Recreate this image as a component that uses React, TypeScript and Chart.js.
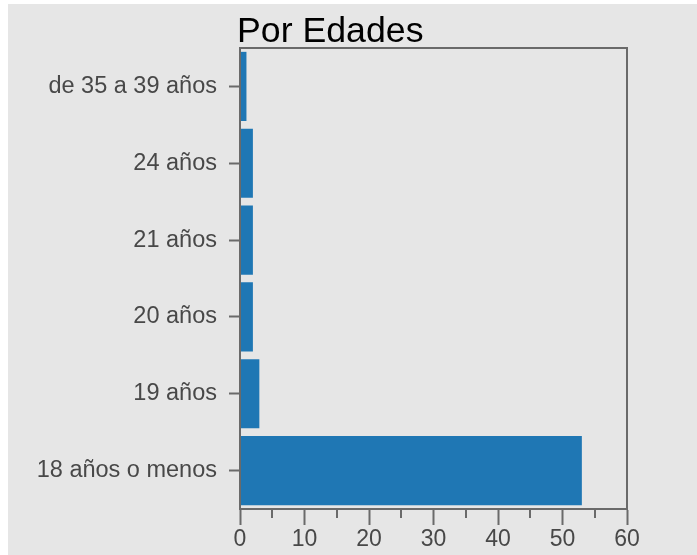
import React, { useEffect, useRef } from "react";
import { Chart, registerables } from "chart.js";

Chart.register(...registerables);

const TITLE = "Por Edades";
const categories = ["18 años o menos", "19 años", "20 años", "21 años", "24 años", "de 35 a 39 años"];
const values = [53, 3, 2, 2, 2, 1];
const xMin = 0;
const xMax = 60;
const majorStep = 10;
const minorTicks = [5, 15, 25, 35, 45, 55];

const AXIS = "#6a6a6a";
const LABEL = "#484848";
const FONT = "'Liberation Sans', Arial, sans-serif";

const boxPlugin = {
  id: "boxPlugin",
  afterDraw(chart: any) {
    const { ctx, chartArea } = chart;
    const { left, right, top, bottom } = chartArea;
    ctx.save();
    ctx.strokeStyle = AXIS;
    ctx.lineWidth = 2;
    ctx.strokeRect(left, top, right - left, bottom - top);
    const xs = chart.scales.x;
    ctx.beginPath();
    for (const v of minorTicks) {
      const px = Math.round(xs.getPixelForValue(v));
      ctx.moveTo(px, bottom);
      ctx.lineTo(px, bottom + 9);
    }
    ctx.stroke();
    ctx.fillStyle = "#000";
    ctx.font = "35.7px " + FONT;
    ctx.textBaseline = "alphabetic";
    ctx.textAlign = "left";
    ctx.fillText(TITLE, left - 3, top - 6);
    ctx.restore();
  },
};

export default function App() {
  const ref = useRef<HTMLCanvasElement | null>(null);
  useEffect(() => {
    if (!ref.current) return;
    const chart = new Chart(ref.current, {
      type: "bar",
      data: {
        labels: categories,
        datasets: [
          {
            data: values,
            backgroundColor: "#1f77b4",
            borderWidth: 0,
            categoryPercentage: 1,
            barPercentage: 0.9,
          },
        ],
      },
      options: {
        indexAxis: "y",
        animation: false,
        responsive: false,
        layout: { padding: { top: 44, left: 0, right: 70, bottom: 0 } },
        plugins: { legend: { display: false }, tooltip: { enabled: false }, title: { display: false } },
        scales: {
          x: {
            type: "linear",
            min: xMin,
            max: xMax,
            ticks: {
              stepSize: majorStep,
              color: LABEL,
              font: { family: FONT, size: 23 },
              padding: 1,
              maxRotation: 0,
            },
            grid: {
              display: true,
              drawOnChartArea: false,
              drawTicks: true,
              tickLength: 16,
              tickColor: AXIS,
              tickWidth: 2,
            },
            border: { display: true, color: AXIS, width: 2 },
            afterFit(scale: any) {
              scale.height = 46;
            },
          },
          y: {
            type: "category",
            reverse: true,
            ticks: {
              color: LABEL,
              font: { family: FONT, size: 23.5 },
              padding: 12,
            },
            grid: {
              display: true,
              drawOnChartArea: false,
              drawTicks: true,
              tickLength: 11,
              tickColor: AXIS,
              tickWidth: 2,
              offset: false,
            },
            border: { display: true, color: AXIS, width: 2 },
            afterFit(scale: any) {
              scale.width = 232;
            },
          },
        },
      },
      plugins: [boxPlugin],
    } as any);
    return () => chart.destroy();
  }, []);
  return (
    <div style={{ position: "absolute", left: 8, top: 4, width: 689, height: 551, background: "#e6e6e6" }}>
      <canvas ref={ref} width={689} height={551} style={{ display: "block" }} />
    </div>
  );
}
